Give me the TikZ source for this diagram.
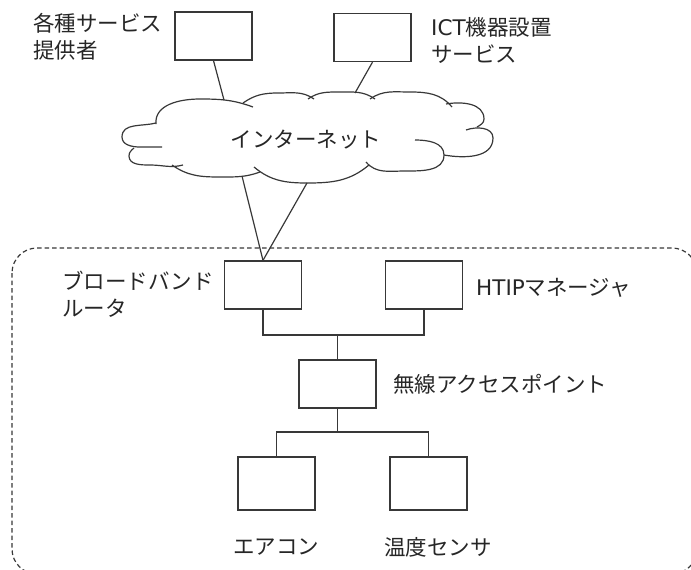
\documentclass[tikz,border=0pt]{standalone}
\usepackage{fontspec}
\setmainfont{Noto Sans CJK JP}
\newfontfamily\latin{DejaVu Sans}
\definecolor{linec}{HTML}{383838}
\definecolor{textc}{HTML}{262626}
\tikzset{
  box/.style={draw=linec, line width=1.3pt, minimum width=77pt, minimum height=48pt, inner sep=0pt},
  tallbox/.style={box, minimum height=53pt},
  lbl/.style={text=textc, inner sep=0pt, font=\fontsize{21.5}{27}\selectfont, align=left},
  conn/.style={draw=linec, line width=1.2pt},
  cloudline/.style={draw=linec, line width=1.2pt},
  zone/.style={draw=linec, line width=1.2pt, dash pattern=on 4.5pt off 3pt, rounded corners=25pt},
}
\begin{document}
\begin{tikzpicture}[x=1pt,y=1pt]
\useasboundingbox (0,0) rectangle (691,-570);
% home zone
\begin{scope}
\clip (0,0) rectangle (691,-570);
\draw[zone] (12,-248) rectangle (697,-574);
\end{scope}
% boxes
\node[box] (sp) at (213.5,-36) {};
\node[box] (ict) at (372.5,-37.5) {};
\node[box] (router) at (263,-285) {};
\node[box] (htip) at (424,-285) {};
\node[box] (ap) at (337.5,-384) {};
\node[tallbox] (aircon) at (276.5,-483.5) {};
\node[tallbox] (sensor) at (428.5,-483.5) {};
% labels
\node[lbl, anchor=west] (tsp) at (33,-37) {各種サービス\\提供者};
\node[lbl, anchor=west] (tict) at (431,-40) {{\latin ICT}機器設置\\サービス};
\node[lbl, anchor=west] (trouter) at (62,-294) {ブロードバンド\\ルータ};
\node[lbl, anchor=west] (thtip) at (476,-288) {{\latin HTIP}マネージャ};
\node[lbl, anchor=west] (tap) at (393,-384) {無線アクセスポイント};
\node[lbl] (taircon) at (276,-547) {エアコン};
\node[lbl] (tsensor) at (438,-547) {温度センサ};
% cloud
\draw[cloudline] (156,-124) to[out=95,in=180] (200,-99) to[out=0,in=160] (253,-107);
\draw[cloudline] (243,-103) to[out=35,in=180] (278,-93) to[out=0,in=145] (314,-99);
\draw[cloudline] (308,-99) to[out=35,in=180] (340,-92) to[out=0,in=145] (375,-99);
\draw[cloudline] (370,-99) to[out=35,in=180] (410,-92) to[out=0,in=130] (452,-107);
\draw[cloudline] (446,-104) to[out=10,in=90] (484,-119) to[out=-90,in=30] (477,-127);
\draw[cloudline] (466,-130) to[out=20,in=90] (493,-138) to[out=-90,in=-10] (444,-155);
\draw[cloudline] (415,-140) to[out=0,in=90] (444,-155) to[out=-90,in=0] (405,-171) to[out=180,in=-50] (366,-162);
\draw[cloudline] (254,-167) to[out=-40,in=180] (307,-183) to[out=0,in=220] (369,-165);
\draw[cloudline] (172,-165) to[out=-35,in=180] (220,-177) to[out=0,in=200] (260,-172);
\draw[cloudline] (134,-148) to[out=220,in=90] (129,-156) to[out=-90,in=180] (150,-165) to[out=0,in=195] (183,-165);
\draw[cloudline] (156,-123) to[out=195,in=90] (122,-137) to[out=-90,in=180] (140,-147) -- (162,-147);
\node[lbl] (tnet) at (306,-140) {インターネット};
% cloud attachment points
\coordinate (c1) at (224,-100);
\coordinate (c2) at (355,-93);
\coordinate (c3) at (242,-176);
\coordinate (c4) at (307,-183);
% connectors
\draw[conn] (sp.south) -- (c1);
\draw[conn] (ict.south) -- (c2);
\draw[conn] (c3) -- (router.north);
\draw[conn] (c4) -- (router.north);
\coordinate (bus1) at (337.5,-335);
\coordinate (bus2) at (337.5,-432);
\draw[conn] (router.south) |- (bus1) -| (htip.south);
\draw[conn] (bus1) -- (ap.north);
\draw[conn] (ap.south) -- (bus2);
\draw[conn] (aircon.north) |- (bus2) -| (sensor.north);
\end{tikzpicture}
\end{document}
